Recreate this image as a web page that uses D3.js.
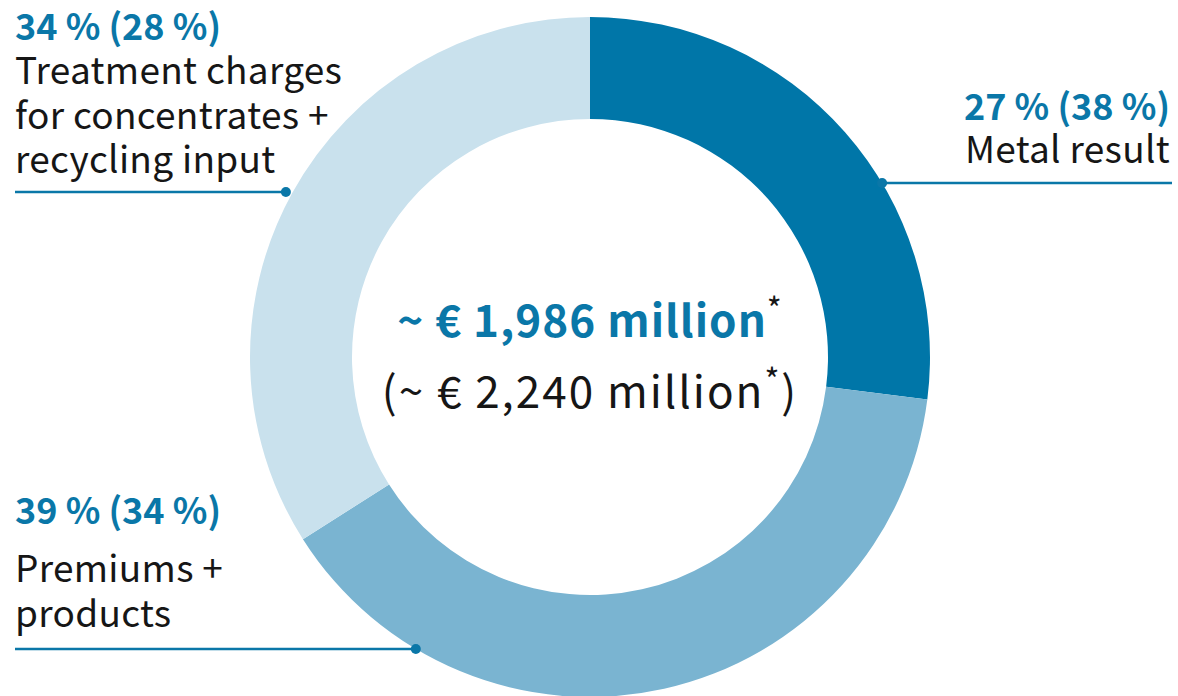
<!DOCTYPE html>
<html>
<head>
<meta charset="utf-8">
<script src="https://cdn.jsdelivr.net/npm/d3@7"></script>
<style>
  body { margin: 0; background: #fff; }
  svg { display: block; font-family: "Noto Sans CJK JP", "Noto Sans", sans-serif; }
</style>
</head>
<body>
<div id="chart"></div>
<script>
// data
const categories = ["Metal result", "Premiums + products", "Treatment charges for concentrates + recycling input"];
const shares = [27, 39, 34];
const sharesPrev = [38, 34, 28];
const labelLines = [["Metal result"], ["Premiums +", "products"], ["Treatment charges", "for concentrates +", "recycling input"]];
const totalNow = "~ € 1,986 million";
const totalPrev = "(~ € 2,240 million";

const colors = ["#0076a8", "#7ab4d1", "#c9e1ed"];
const blue = "#0a77a8";

const width = 1178, height = 696;
const cx = 590, cy = 357, outerR = 340, innerR = 238;

const svg = d3.select("#chart").append("svg")
  .attr("width", width)
  .attr("height", height);

const pie = d3.pie().sort(null).value(d => d);
const arc = d3.arc().innerRadius(innerR).outerRadius(outerR);

const g = svg.append("g").attr("transform", `translate(${cx},${cy})`);

g.selectAll("path")
  .data(pie(shares))
  .join("path")
  .attr("fill", (d, i) => colors[i])
  .attr("d", arc);

// label layout: side, leader y, text position
const layout = [
  { side: "right", lineY: 183, lineEnd: 1172, x: 1170, y0: 120, gap: 43, off: 0 },
  { side: "left", lineY: 649, lineEnd: 15, x: 15, y0: 524, gap: 58, off: 0 },
  { side: "left", lineY: 192, lineEnd: 15, x: 15, y0: 40, gap: 44, off: 6 }
];

categories.forEach((c, i) => {
  const L = layout[i];
  const r = outerR + L.off;
  const dy = L.lineY - cy;
  const dx = Math.sqrt(r * r - dy * dy) * (L.side === "right" ? 1 : -1);
  const dotX = cx + dx;

  svg.append("line")
    .attr("x1", dotX).attr("x2", L.lineEnd)
    .attr("y1", L.lineY).attr("y2", L.lineY)
    .attr("stroke", blue).attr("stroke-width", 2.5);
  svg.append("circle")
    .attr("cx", dotX).attr("cy", L.lineY).attr("r", 5)
    .attr("fill", blue);

  const anchor = L.side === "right" ? "end" : "start";
  svg.append("text")
    .attr("x", L.x).attr("y", L.y0)
    .attr("text-anchor", anchor)
    .attr("font-size", 36).attr("font-weight", 700)
    .attr("fill", blue)
    .text(`${shares[i]} % (${sharesPrev[i]} %)`);

  labelLines[i].forEach((line, j) => {
    svg.append("text")
      .attr("x", L.x).attr("y", L.y0 + L.gap + j * 44.5)
      .attr("text-anchor", anchor)
      .attr("font-size", 37)
      .attr("letter-spacing", 0.3)
      .attr("fill", "#161616")
      .text(line);
  });
});

// center totals
const t1 = svg.append("text")
  .attr("x", cx).attr("y", 337)
  .attr("text-anchor", "middle")
  .attr("font-size", 44).attr("font-weight", 700)
  .attr("letter-spacing", 1)
  .attr("fill", blue);
t1.append("tspan").text(totalNow);
t1.append("tspan").attr("font-size", 32).attr("font-weight", 400).attr("fill", "#161616")
  .attr("dy", -16).text("*");

const t2 = svg.append("text")
  .attr("x", cx).attr("y", 408)
  .attr("text-anchor", "middle")
  .attr("font-size", 44)
  .attr("letter-spacing", 2)
  .attr("fill", "#161616");
t2.append("tspan").text(totalPrev);
t2.append("tspan").attr("font-size", 32).attr("dy", -16).text("*");
t2.append("tspan").attr("dy", 16).text(")");
</script>
</body>
</html>
